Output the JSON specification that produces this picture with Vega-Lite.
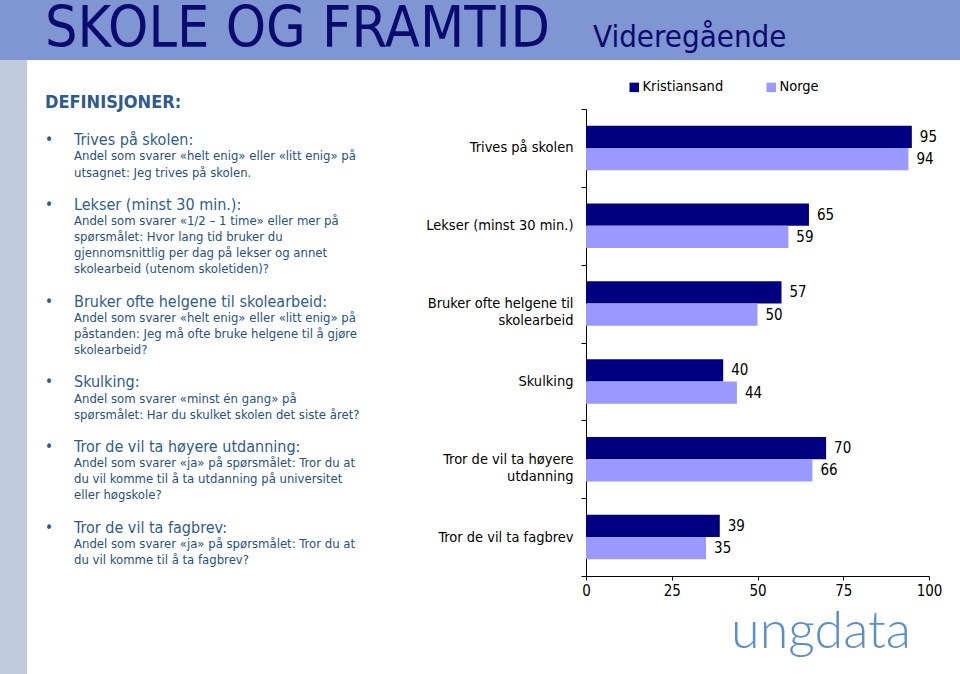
{
  "$schema": "https://vega.github.io/schema/vega-lite/v6.json",
  "padding": 0,
  "background": "white",
  "spacing": 0,
  "bounds": "flush",
  "config": {
    "view": {"stroke": null},
    "font": "DejaVu Sans Condensed"
  },
  "vconcat": [
    {
      "width": 960,
      "height": 60,
      "view": {"fill": "#7F96D3", "stroke": null},
      "data": {"values": [
        {"part": "main", "text": "SKOLE OG FRAMTID"},
        {"part": "sub", "text": "Videregående"}
      ]},
      "encoding": {
        "x": {"field": "part", "type": "nominal", "scale": {"type": "point", "domain": ["main", "sub"], "range": [45, 593], "padding": 0}, "axis": null},
        "text": {"field": "text"}
      },
      "layer": [
        {
          "transform": [{"filter": "datum.part == 'main'"}],
          "mark": {"type": "text", "align": "left", "baseline": "alphabetic", "dy": 17, "fontSize": 57, "color": "#0B0B6F"}
        },
        {
          "transform": [{"filter": "datum.part == 'sub'"}],
          "mark": {"type": "text", "align": "left", "baseline": "alphabetic", "dy": 17, "fontSize": 31, "color": "#0B0B6F"}
        }
      ]
    },
    {
      "hconcat": [
        {
          "width": 27,
          "height": 614,
          "view": {"fill": "#C0CBDE", "stroke": null},
          "data": {"values": [{"t": ""}]},
          "mark": {"type": "text"},
          "encoding": {"text": {"field": "t"}}
        },
        {
          "width": 559,
          "height": 614,
          "data": {"values": [
            {"line": 0, "style": "title", "text": "DEFINISJONER:"},
            {"line": 2, "style": "head", "text": "Trives på skolen:"},
            {"line": 3, "style": "body", "text": "Andel som svarer «helt enig» eller «litt enig» på"},
            {"line": 4, "style": "body", "text": "utsagnet: Jeg trives på skolen."},
            {"line": 6, "style": "head", "text": "Lekser (minst 30 min.):"},
            {"line": 7, "style": "body", "text": "Andel som svarer «1/2 – 1 time» eller mer på"},
            {"line": 8, "style": "body", "text": "spørsmålet: Hvor lang tid bruker du"},
            {"line": 9, "style": "body", "text": "gjennomsnittlig per dag på lekser og annet"},
            {"line": 10, "style": "body", "text": "skolearbeid (utenom skoletiden)?"},
            {"line": 12, "style": "head", "text": "Bruker ofte helgene til skolearbeid:"},
            {"line": 13, "style": "body", "text": "Andel som svarer «helt enig» eller «litt enig» på"},
            {"line": 14, "style": "body", "text": "påstanden: Jeg må ofte bruke helgene til å gjøre"},
            {"line": 15, "style": "body", "text": "skolearbeid?"},
            {"line": 17, "style": "head", "text": "Skulking:"},
            {"line": 18, "style": "body", "text": "Andel som svarer «minst én gang» på"},
            {"line": 19, "style": "body", "text": "spørsmålet: Har du skulket skolen det siste året?"},
            {"line": 21, "style": "head", "text": "Tror de vil ta høyere utdanning:"},
            {"line": 22, "style": "body", "text": "Andel som svarer «ja» på spørsmålet: Tror du at"},
            {"line": 23, "style": "body", "text": "du vil komme til å ta utdanning på universitet"},
            {"line": 24, "style": "body", "text": "eller høgskole?"},
            {"line": 26, "style": "head", "text": "Tror de vil ta fagbrev:"},
            {"line": 27, "style": "body", "text": "Andel som svarer «ja» på spørsmålet: Tror du at"},
            {"line": 28, "style": "body", "text": "du vil komme til å ta fagbrev?"}
          ]},
          "encoding": {
            "y": {"field": "line", "type": "quantitative", "scale": {"domain": [0, 28], "range": [45, 497]}, "axis": null}
          },
          "layer": [
            {
              "transform": [{"filter": "datum.style == 'title'"}],
              "mark": {"type": "text", "align": "left", "baseline": "middle", "dy": -2, "fontSize": 18, "fontWeight": "bold", "color": "#2E5A8C"},
              "encoding": {
                "x": {"datum": "b", "type": "nominal", "scale": {"type": "point", "domain": ["b", "t"], "range": [18, 47], "padding": 0}, "axis": null},
                "text": {"field": "text"}
              }
            },
            {
              "transform": [{"filter": "datum.style == 'head'"}],
              "mark": {"type": "text", "align": "left", "baseline": "middle", "dy": 3, "fontSize": 15, "color": "#2E5A8C", "text": "•"},
              "encoding": {
                "x": {"datum": "b", "type": "nominal", "scale": {"type": "point", "domain": ["b", "t"], "range": [18, 47], "padding": 0}, "axis": null}
              }
            },
            {
              "transform": [{"filter": "datum.style == 'head'"}],
              "mark": {"type": "text", "align": "left", "baseline": "middle", "dy": 3, "fontSize": 16, "color": "#2F5C8C"},
              "encoding": {
                "x": {"datum": "t", "type": "nominal", "scale": {"type": "point", "domain": ["b", "t"], "range": [18, 47], "padding": 0}, "axis": null},
                "text": {"field": "text"}
              }
            },
            {
              "transform": [{"filter": "datum.style == 'body'"}],
              "mark": {"type": "text", "align": "left", "baseline": "middle", "dy": 3, "fontSize": 13, "color": "#27517E"},
              "encoding": {
                "x": {"datum": "t", "type": "nominal", "scale": {"type": "point", "domain": ["b", "t"], "range": [18, 47], "padding": 0}, "axis": null},
                "text": {"field": "text"}
              }
            }
          ]
        },
        {
          "width": 343,
          "height": 516,
          "title": {"text": "ungdata", "orient": "bottom", "anchor": "end", "frame": "group", "font": "Lato", "fontSize": 52, "fontWeight": 300, "color": "#5B8FC7", "offset": 9, "dx": -18},
          "data": {"values": [
            {"kategori": "Trives på skolen", "omrade": "Kristiansand", "andel": 95},
            {"kategori": "Trives på skolen", "omrade": "Norge", "andel": 94},
            {"kategori": "Lekser (minst 30 min.)", "omrade": "Kristiansand", "andel": 65},
            {"kategori": "Lekser (minst 30 min.)", "omrade": "Norge", "andel": 59},
            {"kategori": "Bruker ofte helgene til skolearbeid", "omrade": "Kristiansand", "andel": 57},
            {"kategori": "Bruker ofte helgene til skolearbeid", "omrade": "Norge", "andel": 50},
            {"kategori": "Skulking", "omrade": "Kristiansand", "andel": 40},
            {"kategori": "Skulking", "omrade": "Norge", "andel": 44},
            {"kategori": "Tror de vil ta høyere utdanning", "omrade": "Kristiansand", "andel": 70},
            {"kategori": "Tror de vil ta høyere utdanning", "omrade": "Norge", "andel": 66},
            {"kategori": "Tror de vil ta fagbrev", "omrade": "Kristiansand", "andel": 39},
            {"kategori": "Tror de vil ta fagbrev", "omrade": "Norge", "andel": 35}
          ]},
          "encoding": {
            "y": {
              "field": "kategori", "type": "nominal",
              "sort": ["Trives på skolen", "Lekser (minst 30 min.)", "Bruker ofte helgene til skolearbeid", "Skulking", "Tror de vil ta høyere utdanning", "Tror de vil ta fagbrev"],
              "scale": {"range": [49, 516], "paddingInner": 0, "paddingOuter": 0},
              "axis": {
                "title": null, "tickBand": "extent", "tickSize": 5, "tickColor": "black", "domainColor": "black",
                "labelColor": "black", "labelFontSize": 14.5, "labelPadding": 8, "labelLimit": 0, "labelLineHeight": 17,
                "labelExpr": "datum.label == 'Bruker ofte helgene til skolearbeid' ? ['Bruker ofte helgene til', 'skolearbeid'] : datum.label == 'Tror de vil ta høyere utdanning' ? ['Tror de vil ta høyere', 'utdanning'] : datum.label",
                "grid": false
              }
            },
            "yOffset": {"field": "omrade", "type": "nominal", "sort": ["Kristiansand", "Norge"], "scale": {"paddingInner": 0, "paddingOuter": 0.75}},
            "x": {
              "field": "andel", "type": "quantitative",
              "scale": {"domain": [0, 100]},
              "axis": {"title": null, "values": [0, 25, 50, 75, 100], "tickSize": 4, "labelPadding": 3, "labelFontSize": 15, "labelColor": "black", "tickColor": "black", "domainColor": "black", "grid": false, "labelFlush": false}
            }
          },
          "layer": [
            {
              "mark": {"type": "bar"},
              "encoding": {
                "color": {
                  "field": "omrade", "type": "nominal",
                  "scale": {"domain": ["Kristiansand", "Norge"], "range": ["#000080", "#9999FF"]},
                  "legend": {"title": null, "orient": "none", "direction": "horizontal", "legendX": 627, "legendY": 80, "symbolType": "square", "symbolSize": 90, "symbolStrokeWidth": 0, "labelFontSize": 14.5, "labelColor": "black", "columnPadding": 40, "labelOffset": 1, "padding": 0}
                }
              }
            },
            {
              "mark": {"type": "text", "align": "left", "baseline": "middle", "dx": 8, "fontSize": 15, "color": "black"},
              "encoding": {"text": {"field": "andel", "type": "quantitative"}}
            }
          ]
        }
      ],
      "spacing": 0,
      "bounds": "flush"
    }
  ]
}
